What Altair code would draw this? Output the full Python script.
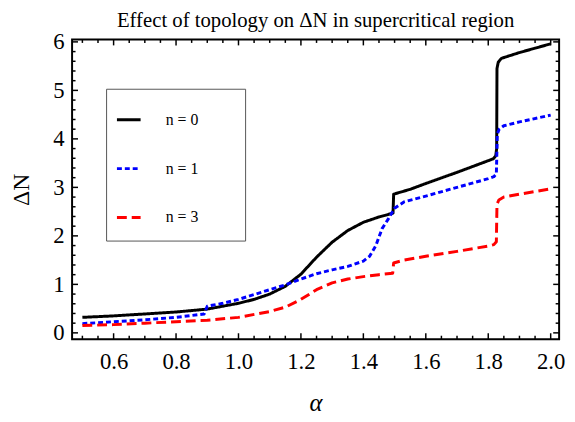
import altair as alt
import pandas as pd

# ---------------- data ----------------
series_labels = ["n = 0", "n = 1", "n = 3"]

alpha_n0 = [0.5, 0.6, 0.7, 0.8, 0.9, 1.0, 1.05, 1.1, 1.15, 1.2, 1.25, 1.3, 1.35, 1.4,
            1.45, 1.49, 1.495, 1.497, 1.55, 1.6, 1.7, 1.8, 1.816, 1.824, 1.827, 1.828,
            1.832, 1.842, 1.9, 1.95, 2.0]
dn_n0 = [0.32, 0.35, 0.39, 0.43, 0.49, 0.61, 0.69, 0.80, 0.96, 1.21, 1.56, 1.87, 2.11, 2.28,
         2.39, 2.46, 2.47, 2.86, 2.96, 3.08, 3.31, 3.55, 3.59, 3.65, 3.80, 5.45,
         5.58, 5.66, 5.78, 5.87, 5.96]

alpha_n1 = [0.5, 0.6, 0.7, 0.8, 0.89, 0.9, 0.95, 1.0, 1.1, 1.15, 1.2, 1.25, 1.3, 1.35,
            1.4, 1.42, 1.44, 1.46, 1.48, 1.5, 1.53, 1.6, 1.7, 1.8, 1.818, 1.826, 1.829,
            1.835, 1.85, 1.9, 2.0]
dn_n1 = [0.19, 0.23, 0.27, 0.32, 0.39, 0.55, 0.61, 0.69, 0.89, 0.99, 1.11, 1.22, 1.30, 1.37,
         1.48, 1.58, 1.80, 2.15, 2.35, 2.57, 2.70, 2.82, 3.00, 3.18, 3.22, 3.28, 4.10,
         4.20, 4.27, 4.35, 4.49]

alpha_n3 = [0.5, 0.6, 0.7, 0.8, 0.9, 1.0, 1.1, 1.15, 1.2, 1.25, 1.3, 1.35, 1.4, 1.45,
            1.494, 1.497, 1.53, 1.6, 1.7, 1.8, 1.818, 1.826, 1.828, 1.834, 1.85, 1.9, 2.0]
dn_n3 = [0.15, 0.17, 0.20, 0.23, 0.26, 0.32, 0.44, 0.53, 0.69, 0.89, 1.03, 1.11, 1.16, 1.20,
         1.23, 1.44, 1.50, 1.58, 1.68, 1.79, 1.82, 1.88, 2.65, 2.74, 2.80, 2.86, 2.97]

x_ticks = [0.6, 0.8, 1.0, 1.2, 1.4, 1.6, 1.8, 2.0]
y_ticks = [0, 1, 2, 3, 4, 5, 6]
x_minor = [0.5, 0.55, 0.65, 0.7, 0.75, 0.85, 0.9, 0.95, 1.05, 1.1, 1.15, 1.25, 1.3, 1.35,
           1.45, 1.5, 1.55, 1.65, 1.7, 1.75, 1.85, 1.9, 1.95]
y_minor = [0.2, 0.4, 0.6, 0.8, 1.2, 1.4, 1.6, 1.8, 2.2, 2.4, 2.6, 2.8, 3.2, 3.4, 3.6, 3.8,
           4.2, 4.4, 4.6, 4.8, 5.2, 5.4, 5.6, 5.8]

colors = ["black", "#0000ff", "#ff0000"]
dashes = [[1, 0], [5, 3], [10, 5]]

rows = []
for lab, xs, ys in zip(series_labels, [alpha_n0, alpha_n1, alpha_n3], [dn_n0, dn_n1, dn_n3]):
    for i, (a, d) in enumerate(zip(xs, ys)):
        rows.append({"series": lab, "alpha": a, "dN": d, "order": i})
df = pd.DataFrame(rows)

# ---------------- layout ----------------
W, H = 494, 304
FONT = "Liberation Serif"
xscale = alt.Scale(domain=[0.467, 2.027], nice=False, zero=False)
yscale = alt.Scale(domain=[-0.13, 6.05], nice=False, zero=False)

leg = alt.Legend(orient="none", legendX=44, legendY=68, title=None, symbolType="stroke",
                 symbolSize=576, symbolStrokeWidth=3, labelFont=FONT, labelFontSize=16,
                 labelColor="black", labelOffset=24, rowPadding=27.5, padding=0)

# identical axis definitions are used in every layer so that they merge cleanly
xaxis = alt.Axis(values=x_ticks, format=".1f", labelFlush=False, labelPadding=12, title="α",
                 titleFontStyle="italic", titleFontSize=25,
                 titleX=W / 2, titleY=64, titleBaseline="middle", titleAlign="center")
yaxis = alt.Axis(values=y_ticks, format="d", labelFlush=False, labelPadding=8, title="ΔN",
                 titleFontSize=24, titleAngle=-90,
                 titleX=-51, titleY=H / 2, titleBaseline="middle", titleAlign="center")

lines = alt.Chart(df).mark_line(strokeWidth=3, strokeCap="butt", strokeJoin="round").encode(
    x=alt.X("alpha:Q", scale=xscale, axis=xaxis),
    y=alt.Y("dN:Q", scale=yscale, axis=yaxis),
    color=alt.Color("series:N", scale=alt.Scale(domain=series_labels, range=colors), legend=leg),
    strokeDash=alt.StrokeDash("series:N", scale=alt.Scale(domain=series_labels, range=dashes), legend=leg),
    order="order:Q",
)

legend_box = alt.Chart(pd.DataFrame({"k": [0]})).mark_rect(
    fill="white", stroke="#555555", strokeWidth=1).encode(
    x=alt.value(35), x2=alt.value(176), y=alt.value(50.5), y2=alt.value(204.5))


def ticks(vals, length, side):
    d = pd.DataFrame({"v": vals})
    base = alt.Chart(d).mark_rule(color="black", strokeWidth=1.5)
    if side == "bottom":
        return base.encode(x=alt.X("v:Q", scale=xscale, axis=xaxis), y=alt.value(H), y2=alt.value(H - length))
    if side == "top":
        return base.encode(x=alt.X("v:Q", scale=xscale, axis=xaxis), y=alt.value(0), y2=alt.value(length))
    if side == "left":
        return base.encode(y=alt.Y("v:Q", scale=yscale, axis=yaxis), x=alt.value(0), x2=alt.value(length))
    return base.encode(y=alt.Y("v:Q", scale=yscale, axis=yaxis), x=alt.value(W), x2=alt.value(W - length))


tick_layers = []
for side in ["bottom", "top"]:
    tick_layers.append(ticks(x_ticks, 6, side))
    tick_layers.append(ticks(x_minor, 3.5, side))
for side in ["left", "right"]:
    tick_layers.append(ticks(y_ticks, 6, side))
    tick_layers.append(ticks(y_minor, 3.5, side))

chart = alt.layer(legend_box, lines, *tick_layers).properties(
    width=W, height=H,
    title=alt.TitleParams("Effect of topology on ΔN in supercritical region", font=FONT,
                          fontSize=21, fontWeight="normal", color="black", anchor="middle",
                          baseline="alphabetic", offset=-17, frame="group"),
    autosize=alt.AutoSizeParams(type="none"),
    padding={"left": 65, "top": 29, "right": 8, "bottom": 74},
).configure_view(
    stroke="black", strokeWidth=2
).configure_axis(
    ticks=False, tickSize=0, domain=False, grid=False,
    labelFont=FONT, labelFontSize=23, labelColor="black",
    titleFont=FONT, titleFontWeight="normal", titleColor="black",
)

chart.save("out.html", embed_options={"renderer": "svg", "actions": False})
